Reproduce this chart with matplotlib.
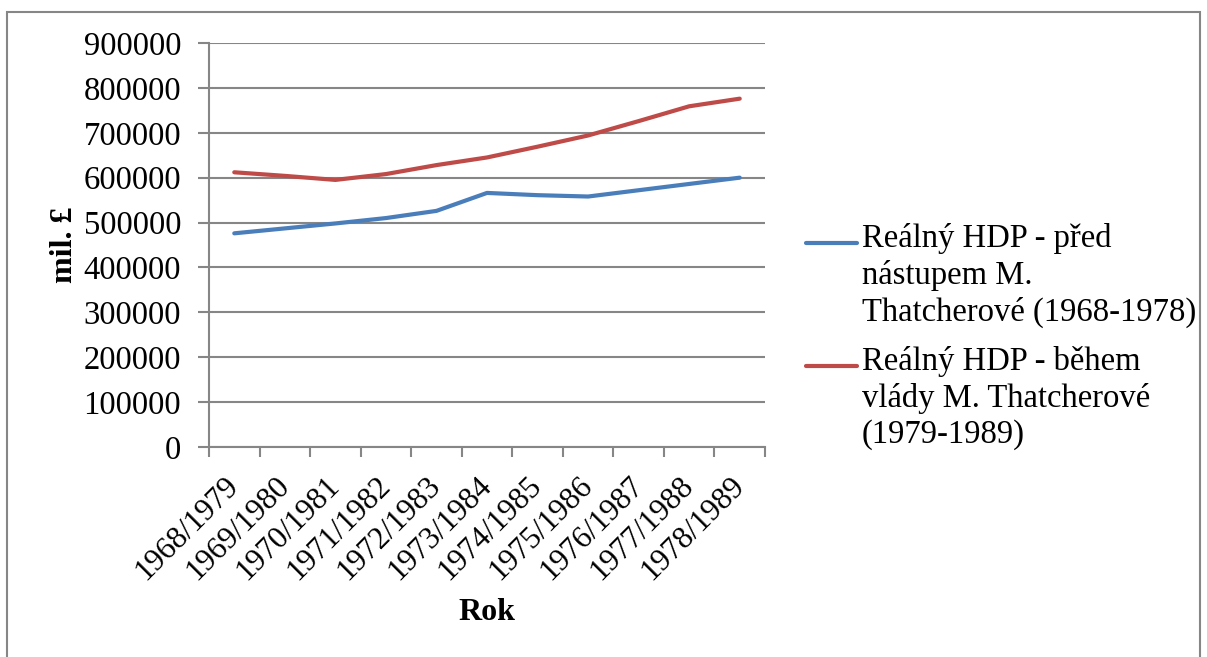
import matplotlib
matplotlib.use("Agg")
import matplotlib.pyplot as plt
from matplotlib.lines import Line2D
from matplotlib.patches import Rectangle

plt.rcParams['font.family'] = ['Liberation Serif', 'DejaVu Serif']

roky = ["1968/1979", "1969/1980", "1970/1981", "1971/1982", "1972/1983",
        "1973/1984", "1974/1985", "1975/1986", "1976/1987", "1977/1988",
        "1978/1989"]
pred = [476000, 487000, 498000, 510000, 526000, 566000, 561000, 558000,
        572000, 586000, 600000]
behem = [612000, 604000, 595000, 608000, 628000, 645000, 669000, 694000,
         726000, 759000, 776000]
popisky = ["Reálný HDP - před\nnástupem M.\nThatcherové (1968-1978)",
           "Reálný HDP - během\nvlády M. Thatcherové\n(1979-1989)"]
yticks = list(range(0, 900001, 100000))

blue = "#4A7EBB"
red = "#BE4B48"
grey = "#868686"

fig = plt.figure(figsize=(12.07, 6.57), dpi=100)
ax = fig.add_axes([209/1207, 1-447/657, (765-209)/1207, (447-43)/657])

x = list(range(len(roky)))
ax.plot(x, pred, color=blue, lw=3.0, solid_capstyle='round', zorder=3)
ax.plot(x, behem, color=red, lw=3.0, solid_capstyle='round', zorder=3)

ax.set_ylim(0, 900000)
ax.set_xlim(-0.5, len(roky) - 0.5)
ax.set_yticks(yticks)
ax.set_yticklabels([str(v) for v in yticks], fontsize=23.5)
ax.yaxis.grid(True, color=grey, lw=1.5)
ax.set_axisbelow(True)

ax.set_xticks(x)
ax.set_xticklabels(roky, rotation=45, ha='right', va='center',
                   rotation_mode='anchor', fontsize=22.5)
ax.set_xticks([i - 0.5 for i in range(len(roky) + 1)], minor=True)
ax.tick_params(axis='x', which='major', length=0, pad=25)
ax.tick_params(axis='x', which='minor', length=7, width=1.5, color=grey,
               direction='out')
ax.tick_params(axis='y', length=8, width=1.5, color=grey, direction='out',
               pad=12)

for s in ['top', 'right']:
    ax.spines[s].set_visible(False)
for s in ['left', 'bottom']:
    ax.spines[s].set_color(grey)
    ax.spines[s].set_linewidth(1.5)

fig.text(65/1207, 1-245/657, "mil. £", rotation=90, fontsize=23,
         fontweight='bold', ha='center', va='center')
fig.text(487/1207, 1-613/657, "Rok", fontsize=23, fontweight='bold',
         ha='center', va='center')

# legenda
for barva, text, ytop in [(blue, popisky[0], 243), (red, popisky[1], 366)]:
    fig.add_artist(Line2D([806/1207, 857/1207], [1-ytop/657, 1-ytop/657],
                          color=barva, lw=3.0, solid_capstyle='round'))
    fig.text(862/1207, 1-(ytop-20)/657, text, fontsize=23.5, ha='left',
             va='top', linespacing=1.24)

fig.add_artist(Rectangle((7/1207, -0.05), (1200-7)/1207, 1-12/657+0.05,
                         transform=fig.transFigure, fill=False,
                         edgecolor=grey, lw=1.5))

fig.savefig("out.png", dpi=100)
